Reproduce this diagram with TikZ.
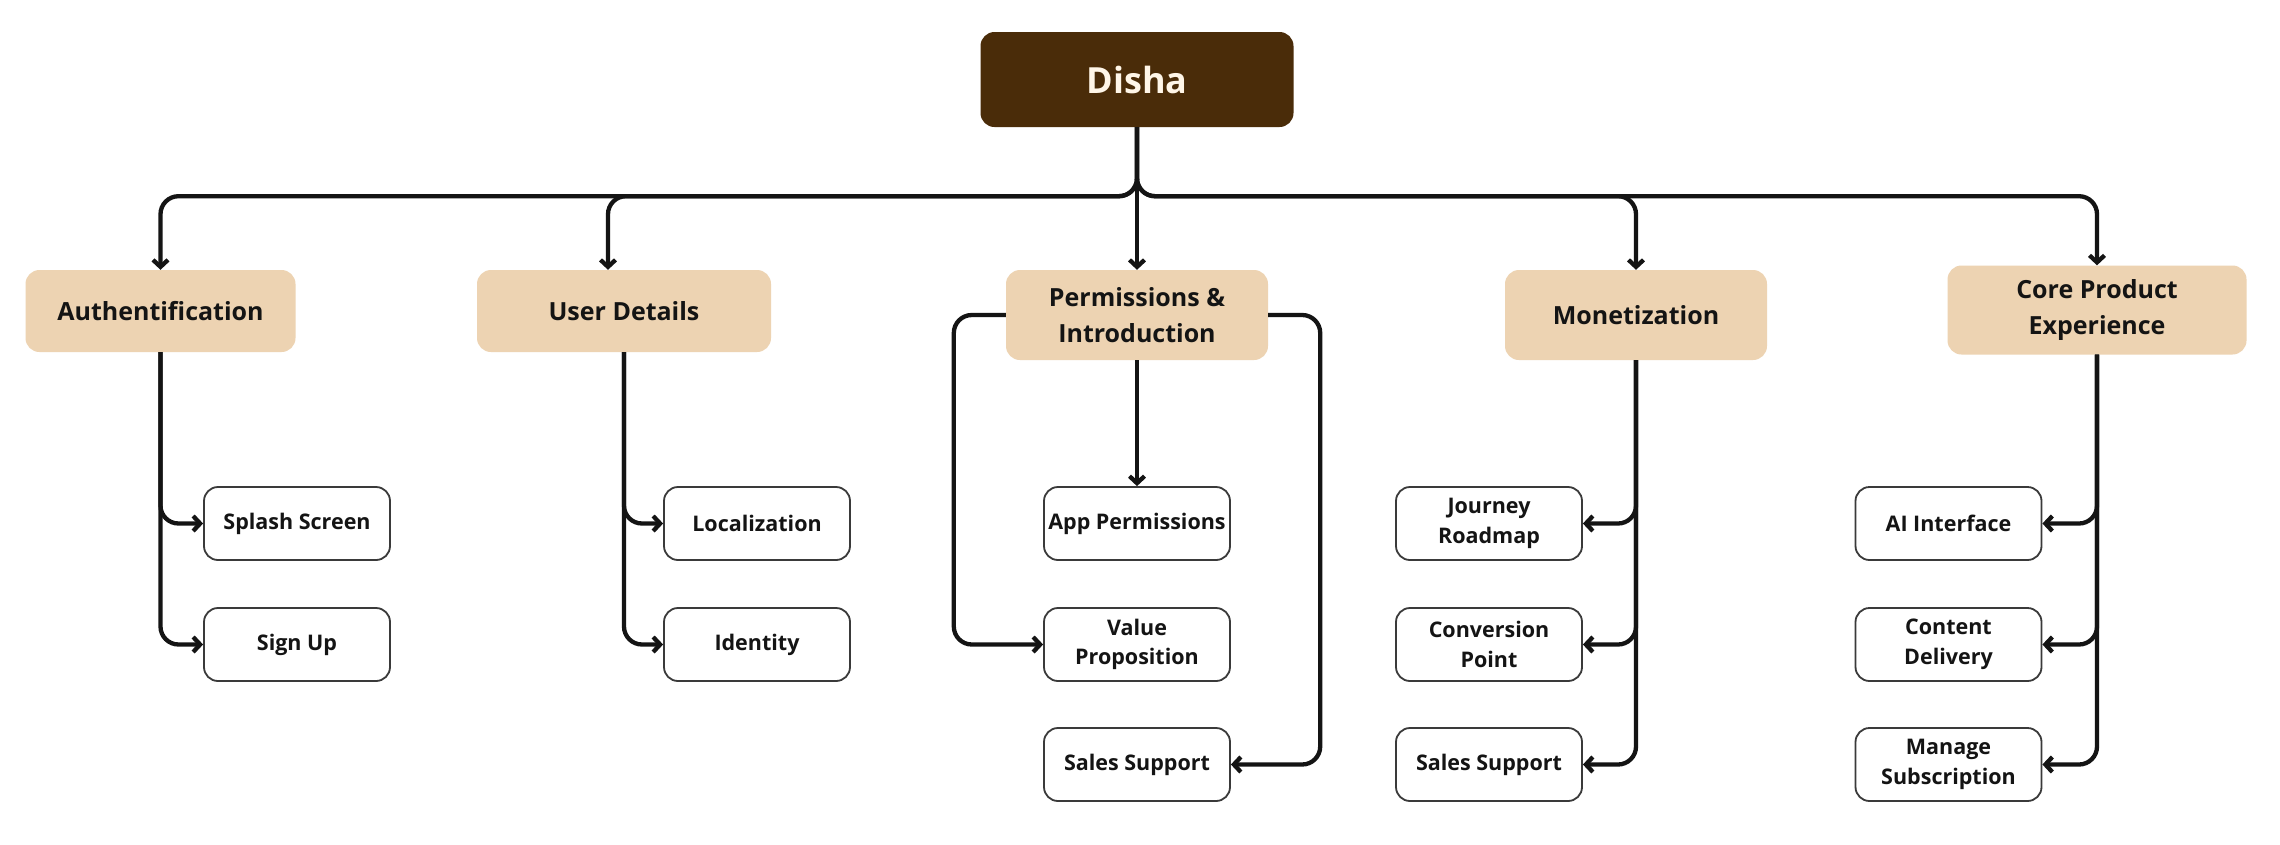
\documentclass[tikz,border=0pt]{standalone}
\usepackage{fontspec}
\setmainfont{Open Sans}
\usetikzlibrary{arrows.meta}
\definecolor{rootbrown}{HTML}{4A2C09}
\definecolor{roottext}{HTML}{FFF6E8}
\definecolor{tan}{HTML}{EDD3B2}
\definecolor{ink}{HTML}{141414}
\definecolor{leafline}{HTML}{3A3A3A}
\begin{document}
\begin{tikzpicture}[x=1pt,y=-1pt,
  conn/.style={line width=4.3pt, draw=ink, -{Straight Barb[length=7pt,width=15pt]}, rounded corners=18pt},
  root/.style={fill=rootbrown, rounded corners=14pt, minimum width=313pt, minimum height=95pt, inner sep=0pt, text=roottext, font=\bfseries\fontsize{36}{42}\selectfont},
  cat/.style={fill=tan, rounded corners=14pt, align=center, inner sep=0pt, text=ink, font=\bfseries\fontsize{25}{36}\selectfont},
  leaf/.style={draw=leafline, line width=1.8pt, fill=white, rounded corners=14pt, minimum width=186pt, minimum height=73pt, align=center, inner sep=0pt, text=ink, font=\bfseries\fontsize{21.5}{29.5}\selectfont}]
\useasboundingbox[fill=white] (0,0) rectangle (2280,844);

% root
\node[root] (disha) at (1137,79.5) {Disha};

% categories
\node[cat, minimum width=270pt, minimum height=82pt] (auth) at (160.5,311) {Authentification};
\node[cat, minimum width=294pt, minimum height=82pt] (ud) at (624,311) {User Details};
\node[cat, minimum width=262pt, minimum height=90pt] (perm) at (1137,315) {Permissions \&\\Introduction};
\node[cat, minimum width=262pt, minimum height=90pt] (mon) at (1636,315) {Monetization};
\node[cat, minimum width=299pt, minimum height=89pt] (core) at (2097,310) {Core Product\\Experience};

% leaves
\node[leaf] (splash) at (297,523.5) {Splash Screen};
\node[leaf] (signup) at (297,644.5) {Sign Up};
\node[leaf] (local) at (757,523.5) {Localization};
\node[leaf] (ident) at (757,644.5) {Identity};
\node[leaf] (app) at (1137,523.5) {App Permissions};
\node[leaf] (value) at (1137,644.5) {Value\\Proposition};
\node[leaf] (salesA) at (1137,764.5) {Sales Support};
\node[leaf] (journey) at (1489,523.5) {Journey\\Roadmap};
\node[leaf] (conv) at (1489,644.5) {Conversion\\Point};
\node[leaf] (salesB) at (1489,764.5) {Sales Support};
\node[leaf] (ai) at (1948.5,523.5) {AI Interface};
\node[leaf] (content) at (1948.5,644.5) {Content\\Delivery};
\node[leaf] (manage) at (1948.5,764.5) {Manage\\Subscription};

% bus from root
\draw[conn] (disha.south) -- ++(0,69) -| (auth.north);
\draw[conn] (disha.south) -- ++(0,69) -| ([xshift=-16pt]ud.north);
\draw[conn] (disha.south) -- (perm.north);
\draw[conn] (disha.south) -- ++(0,69) -| (mon.north);
\draw[conn] (disha.south) -- ++(0,69) -| (core.north);

% authentification
\draw[conn] (auth.south) |- (splash.west);
\draw[conn] (auth.south) |- (signup.west);
% user details
\draw[conn] (ud.south) |- (local.west);
\draw[conn] (ud.south) |- (ident.west);
% permissions
\draw[conn] (perm.south) -- (app.north);
\draw[conn] (perm.west) -- ++(-52,0) |- (value.west);
\draw[conn] (perm.east) -- ++(52,0) |- (salesA.east);
% monetization
\draw[conn] (mon.south) |- (journey.east);
\draw[conn] (mon.south) |- (conv.east);
\draw[conn] (mon.south) |- (salesB.east);
% core
\draw[conn] (core.south) |- (ai.east);
\draw[conn] (core.south) |- (content.east);
\draw[conn] (core.south) |- (manage.east);
\end{tikzpicture}
\end{document}
